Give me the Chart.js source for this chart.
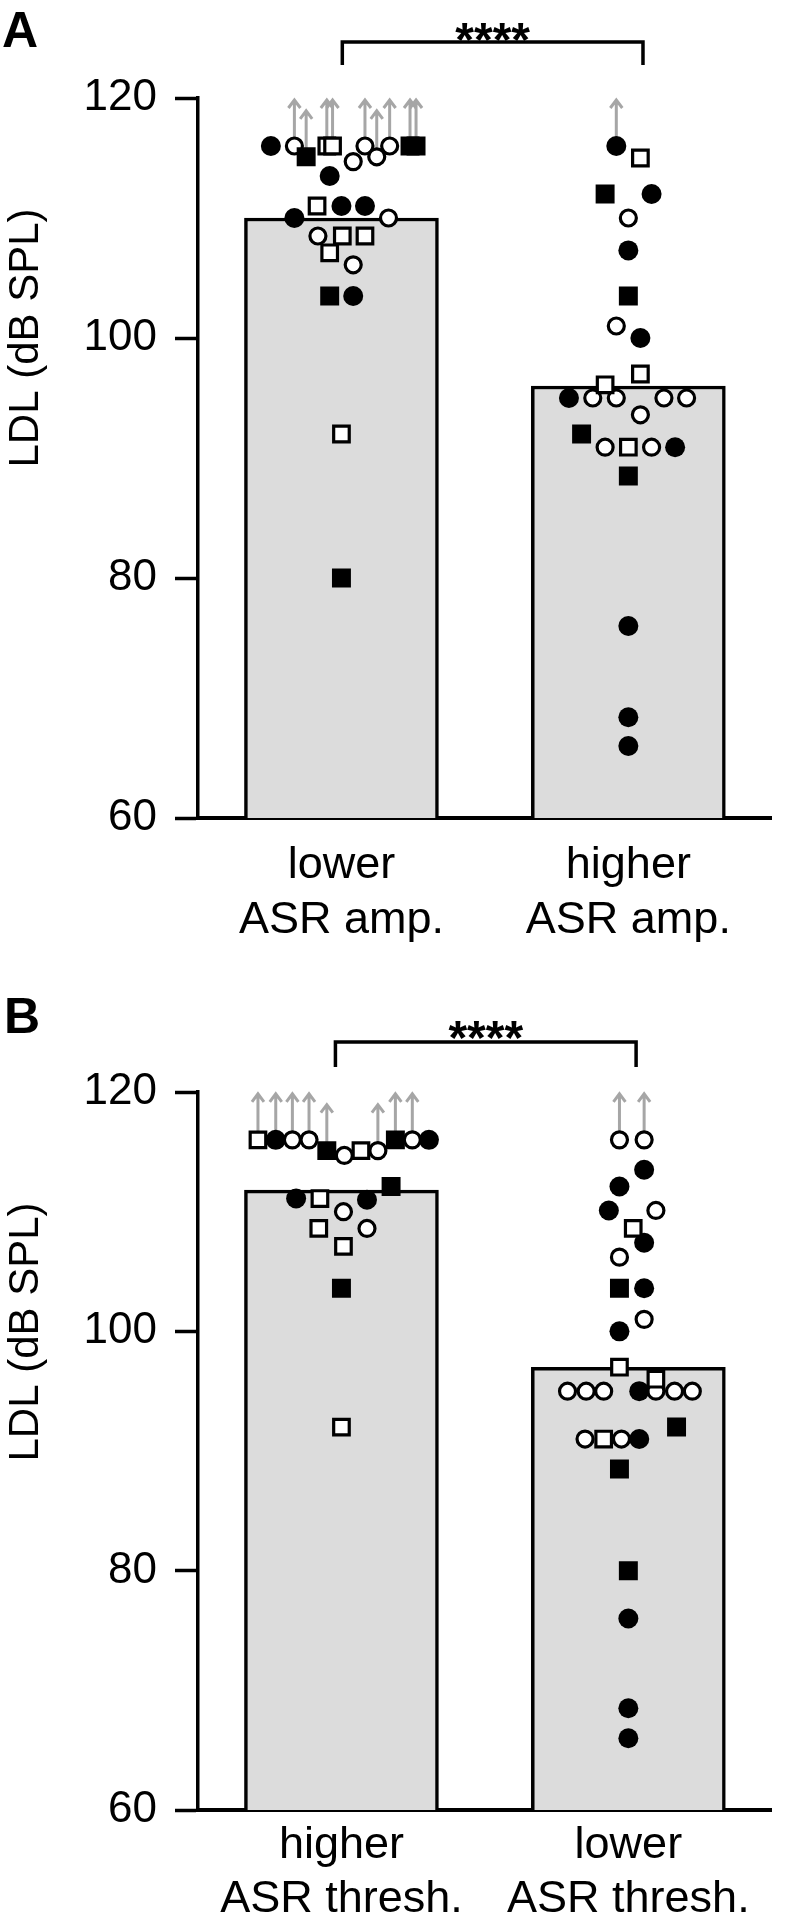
<!DOCTYPE html>
<html>
<head>
<meta charset="utf-8">
<script src="https://cdn.jsdelivr.net/npm/chart.js@4"></script>
<style>
  html, body { margin: 0; padding: 0; background: #fff; }
  body { width: 786px; height: 1928px; position: relative; overflow: hidden; }
  canvas { position: absolute; left: 0; }
</style>
</head>
<body>
<canvas id="panelA" width="786" height="994" style="top:0"></canvas>
<canvas id="panelB" width="786" height="934" style="top:994px"></canvas>
<script>
// each point: [LDL dB SPL, jitter inside group, marker, censored (arrow = at or above)]
// markers: fc filled circle, oc open circle, fs filled square, os open square
const yTicks = [60, 80, 100, 120];

const barsA = [110, 96];
const labelsA = [['lower', 'ASR amp.'], ['higher', 'ASR amp.']];
const A_lower = [
  [116, -0.246, 'fc', 0], [116, -0.164, 'oc', 1], [116, -0.051, 'os', 1], [116, -0.031, 'os', 1],
  [116, 0.082, 'oc', 1], [116, 0.168, 'oc', 1], [116, 0.239, 'fs', 1], [116, 0.260, 'fs', 1],
  [115.1, -0.123, 'fs', 1], [115.1, 0.123, 'oc', 1], [114.7, 0.041, 'oc', 0], [113.5, -0.041, 'fc', 0],
  [111, -0.085, 'os', 0], [111, 0, 'fc', 0], [111, 0.082, 'fc', 0], [110, -0.164, 'fc', 0],
  [110, 0.164, 'oc', 0], [108.5, -0.082, 'oc', 0], [108.5, 0.003, 'os', 0], [108.5, 0.082, 'os', 0],
  [107.1, -0.041, 'os', 0], [106.1, 0.041, 'oc', 0], [103.5, -0.041, 'fs', 0], [103.5, 0.041, 'fc', 0],
  [92, 0, 'os', 0], [80, 0, 'fs', 0]
];
const A_higher = [
  [116, -0.042, 'fc', 1], [115, 0.042, 'os', 0], [112, -0.081, 'fs', 0], [112, 0.081, 'fc', 0],
  [110, 0, 'oc', 0], [107.3, 0, 'fc', 0], [103.5, 0, 'fs', 0], [101, -0.042, 'oc', 0],
  [100, 0.042, 'fc', 0], [97, 0.042, 'os', 0], [96.1, -0.081, 'os', 0], [95, -0.207, 'fc', 0],
  [95, -0.124, 'oc', 0], [95, -0.042, 'oc', 0], [95, 0.124, 'oc', 0], [95, 0.203, 'oc', 0],
  [93.6, 0.042, 'oc', 0], [92, -0.163, 'fs', 0], [90.9, -0.081, 'oc', 0], [90.9, 0, 'os', 0],
  [90.9, 0.081, 'oc', 0], [90.9, 0.163, 'fc', 0], [88.5, 0, 'fs', 0], [76, 0, 'fc', 0],
  [68.4, 0, 'fc', 0], [66, 0, 'fc', 0]
];

const barsB = [111.8, 97];
const labelsB = [['higher', 'ASR thresh.'], ['lower', 'ASR thresh.']];
const B_higher = [
  [116, -0.291, 'os', 1], [116, -0.229, 'fc', 1], [116, -0.171, 'oc', 1], [116, -0.113, 'oc', 1],
  [115.1, -0.051, 'fs', 1], [114.7, 0.01, 'oc', 0], [115.1, 0.068, 'os', 0], [115.1, 0.127, 'oc', 1],
  [116, 0.188, 'fs', 1], [116, 0.247, 'oc', 1], [116, 0.305, 'fc', 0],
  [111.1, -0.158, 'fc', 0], [111.1, -0.075, 'os', 0], [111, 0.089, 'fc', 0], [112.1, 0.173, 'fs', 0],
  [110, 0.007, 'oc', 0], [108.6, -0.079, 'os', 0], [108.6, 0.089, 'oc', 0], [107.1, 0.007, 'os', 0],
  [103.6, 0, 'fs', 0], [92, 0, 'os', 0]
];
const B_lower = [
  [116, -0.031, 'oc', 1], [116, 0.055, 'oc', 1], [113.5, 0.055, 'fc', 0], [112.1, -0.031, 'fc', 0],
  [110.1, -0.068, 'fc', 0], [110.1, 0.096, 'oc', 0], [108.6, 0.017, 'os', 0], [107.4, 0.055, 'fc', 0],
  [106.2, -0.031, 'oc', 0], [103.6, -0.031, 'fs', 0], [103.6, 0.055, 'fc', 0], [101, 0.055, 'oc', 0],
  [100, -0.031, 'fc', 0], [97, -0.031, 'os', 0], [96, 0.096, 'os', 0], [95, -0.212, 'oc', 0],
  [95, -0.147, 'oc', 0], [95, -0.086, 'oc', 0], [95, 0.038, 'fc', 0], [95, 0.096, 'oc', 0],
  [95, 0.161, 'oc', 0], [95, 0.223, 'oc', 0], [92, 0.168, 'fs', 0], [91, -0.151, 'oc', 0],
  [91, -0.086, 'os', 0], [91, -0.024, 'oc', 0], [91, 0.038, 'fc', 0], [88.5, -0.031, 'fs', 0],
  [80, 0, 'fs', 0], [76, 0, 'fc', 0], [68.5, 0, 'fc', 0], [66, 0, 'fc', 0]
];

const FONT = 'Liberation Sans, Arial, Helvetica, sans-serif';
const markers = {
  fs: { style: 'rect', r: 13.4, bg: '#000', bc: '#000', bw: 0 },
  os: { style: 'rect', r: 11, bg: '#fff', bc: '#000', bw: 3.2 },
  fc: { style: 'circle', r: 10, bg: '#000', bc: '#000', bw: 0 },
  oc: { style: 'circle', r: 8, bg: '#fff', bc: '#000', bw: 3.2 }
};

function makePanel(id, letter, bars, labels, groups, deco, axisH) {
  const pointSets = Object.keys(markers).map(m => ({
    type: 'scatter',
    data: groups.flatMap((g, gi) => g.filter(p => p[2] === m).map(p => ({ x: gi + p[1], y: p[0] }))),
    pointStyle: markers[m].style,
    pointRadius: markers[m].r,
    backgroundColor: markers[m].bg,
    borderColor: markers[m].bc,
    borderWidth: markers[m].bw,
    order: 1
  }));

  const extras = {
    id: 'extras' + letter,
    beforeDatasetsDraw(chart) {
      const ctx = chart.ctx, xs = chart.scales.x, ys = chart.scales.y;
      ctx.save();
      ctx.strokeStyle = '#a6a6a6';
      ctx.lineWidth = 3;
      groups.forEach((g, gi) => g.filter(p => p[3]).forEach(p => {
        const x = xs.getPixelForValue(gi + p[1]);
        const y = ys.getPixelForValue(p[0]);
        ctx.beginPath();
        ctx.moveTo(x, y - 6);
        ctx.lineTo(x, y - 46);
        ctx.moveTo(x - 6, y - 38);
        ctx.lineTo(x, y - 46);
        ctx.lineTo(x + 6, y - 38);
        ctx.stroke();
      }));
      ctx.restore();
    },
    afterDraw(chart) {
      const ctx = chart.ctx, xs = chart.scales.x, top = chart.chartArea.top;
      ctx.save();
      // significance bracket
      const x1 = xs.getPixelForValue(deco.bracket[0]);
      const x2 = xs.getPixelForValue(deco.bracket[1]);
      ctx.strokeStyle = '#000';
      ctx.lineWidth = 3.5;
      ctx.beginPath();
      ctx.moveTo(x1, top - deco.legTo);
      ctx.lineTo(x1, top - deco.bracketY);
      ctx.lineTo(x2, top - deco.bracketY);
      ctx.lineTo(x2, top - deco.legTo);
      ctx.stroke();
      ctx.fillStyle = '#000';
      ctx.textAlign = 'center';
      ctx.textBaseline = 'alphabetic';
      ctx.font = 'bold 48px ' + FONT;
      ctx.fillText('****', (x1 + x2) / 2, top - deco.starsY);
      // panel letter
      ctx.textAlign = 'left';
      ctx.font = 'bold 50px ' + FONT;
      ctx.fillText(letter, deco.letter[0], deco.letter[1]);
      // y axis title
      ctx.font = '42px ' + FONT;
      ctx.translate(26, 338);
      ctx.rotate(-Math.PI / 2);
      ctx.textAlign = 'center';
      ctx.textBaseline = 'middle';
      ctx.fillText('LDL (dB SPL)', 0, 0);
      ctx.restore();
    }
  };

  return new Chart(document.getElementById(id), {
    type: 'bar',
    data: {
      datasets: [{
        type: 'bar',
        data: bars.map((v, i) => ({ x: i, y: v })),
        backgroundColor: '#dcdcdc',
        borderColor: '#000',
        borderWidth: 3.5,
        borderSkipped: 'start',
        barThickness: 194,
        order: 10
      }].concat(pointSets)
    },
    options: {
      responsive: false,
      animation: false,
      events: [],
      layout: { padding: { top: 98, right: 4, left: 0, bottom: 0 } },
      plugins: { legend: { display: false }, tooltip: { enabled: false } },
      scales: {
        x: {
          type: 'linear', min: -0.5, max: 1.5, offset: false,
          grid: { display: false, drawTicks: false, offset: false },
          border: { display: true, color: '#000', width: 4 },
          afterBuildTicks: s => { s.ticks = [{ value: 0 }, { value: 1 }]; },
          afterFit: s => { s.height = axisH; },
          ticks: {
            callback: v => labels[v],
            color: '#000',
            font: { family: FONT, size: 45, lineHeight: deco.lineH },
            padding: deco.labelPad,
            maxRotation: 0,
            autoSkip: false
          },
          z: 1
        },
        y: {
          min: 60, max: 120,
          afterBuildTicks: s => { s.ticks = yTicks.map(v => ({ value: v })); },
          afterFit: s => { s.width = 198; },
          grid: { drawOnChartArea: false, drawTicks: true, tickLength: 23, tickWidth: 3.5, tickColor: '#000' },
          border: { display: true, color: '#000', width: 3.5 },
          ticks: { color: '#000', font: { family: FONT, size: 44 }, padding: 18 }
        }
      }
    },
    plugins: [extras]
  });
}

makePanel('panelA', 'A', barsA, labelsA, [A_lower, A_higher],
  { bracket: [0.003, 1.051], bracketY: 56, legTo: 33, starsY: 42, letter: [2, 47], labelPad: 20, lineH: 1.22 }, 176);
makePanel('panelB', 'B', barsB, labelsB, [B_higher, B_lower],
  { bracket: [-0.021, 1.027], bracketY: 50, legTo: 25, starsY: 38, letter: [4, 39], labelPad: 9, lineH: 1.2 }, 118);
</script>
</body>
</html>
